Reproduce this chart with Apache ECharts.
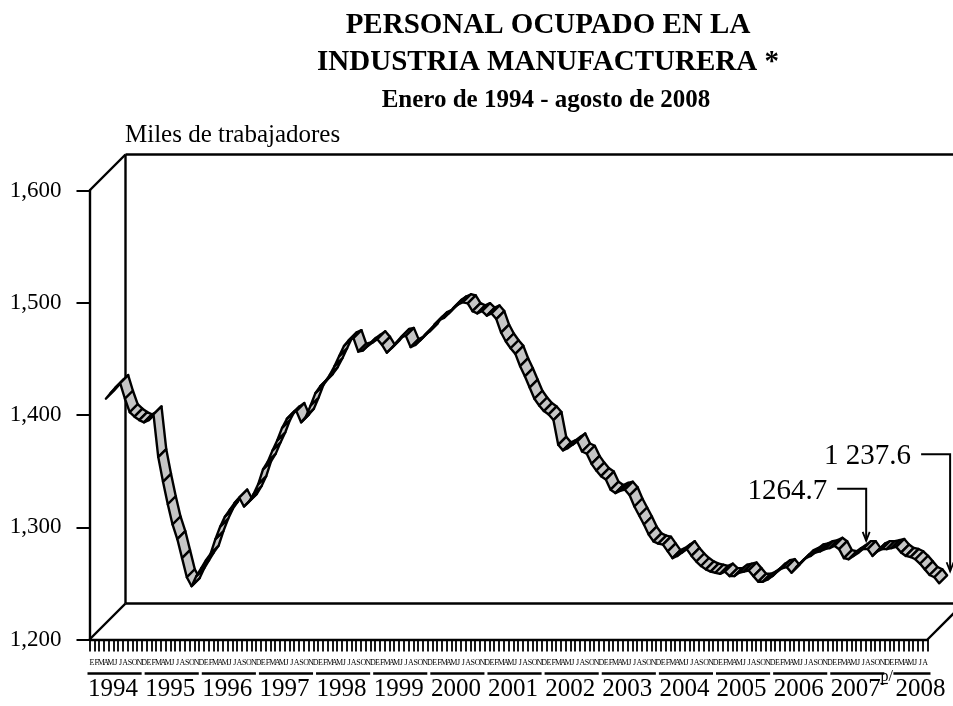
<!DOCTYPE html>
<html>
<head>
<meta charset="utf-8">
<script src="https://cdn.jsdelivr.net/npm/echarts@6/dist/echarts.min.js"></script>
<style>
html,body{margin:0;padding:0;background:#fff;}
#c{width:953px;height:706px;}
</style>
</head>
<body>
<div id="c"></div>
<script>
// ---------- data ----------
const monthLetters = ['E','F','M','A','M','J','J','A','S','O','N','D'];
const yearLabels = ['1994','1995','1996','1997','1998','1999','2000','2001','2002','2003','2004','2005','2006','2007','2008'];
const v1994 = [1402,1407,1412,1416,1402,1390,1386,1383,1381,1383,1388,1350];
const v1995 = [1328,1308,1290,1277,1260,1243,1235,1244,1251,1258,1264,1277];
const v1996 = [1288,1297,1303,1309,1314,1306,1310,1317,1326,1339,1346,1356];
const v1997 = [1365,1376,1384,1388,1391,1381,1386,1396,1407,1413,1417,1423];
const v1998 = [1431,1440,1449,1454,1456,1444,1445,1449,1452,1455,1450,1443];
const v1999 = [1447,1452,1457,1458,1448,1450,1454,1459,1462,1468,1472,1474];
const v2000 = [1478,1483,1486,1488,1487,1480,1478,1480,1476,1478,1473,1461];
const v2001 = [1453,1447,1442,1431,1422,1412,1402,1396,1391,1388,1383,1361];
const v2002 = [1356,1358,1361,1364,1355,1353,1344,1338,1333,1330,1321,1318];
const v2003 = [1320,1321,1316,1306,1298,1290,1281,1275,1273,1272,1266,1260];
const v2004 = [1262,1265,1268,1262,1257,1253,1250,1248,1247,1246,1248,1244];
const v2005 = [1244,1247,1248,1249,1244,1239,1239,1241,1244,1248,1251,1252];
const v2006 = [1247,1252,1256,1260,1262,1265,1266,1268,1269,1271,1268,1260];
const v2007 = [1259,1262,1264.7,1268,1268,1262,1266,1268,1268,1269,1270,1265];
const v2008 = [1262,1261,1259,1255,1250,1245,1243,1237.6];
const values = [].concat(v1994,v1995,v1996,v1997,v1998,v1999,v2000,v2001,v2002,v2003,v2004,v2005,v2006,v2007,v2008);
const categories = values.map((_, i) => yearLabels[Math.floor(i / 12)] + '-' + (i % 12 + 1));
const yMin = 1200, yMax = 1600, yStep = 100;
const annIndex = [158, 175];
const annText = ['1264.7', '1 237.6'];

// ---------- layout ----------
const FONT = "'Liberation Serif','Times New Roman',serif";
const G = {left: 89.5, top: 190.5, right: 927.5, bottom: 639.5, depth: 36, ribFront: 14, ribBack: 22};
const W = 953;

const chart = echarts.init(document.getElementById('c'));

const ribbonData = values.slice(0, -1).map((v, i) => [i, v, values[i + 1]]);
const yearData = yearLabels.map((y, k) => [k * 12, Math.min(k * 12 + 11, values.length - 1), k]);

function txt(x, y, text, size, align, weight) {
  return {type: 'text', x: x, y: y, style: {text: text, fill: '#000', fontSize: size, fontFamily: FONT,
    fontWeight: weight || 'normal', textAlign: align, textVerticalAlign: 'middle', align: align, verticalAlign: 'middle'}};
}
function seg(x1, y1, x2, y2, w) {
  return {type: 'line', shape: {x1: x1, y1: y1, x2: x2, y2: y2}, style: {stroke: '#000', lineWidth: w || 2.4}};
}

const option = {
  animation: false,
  grid: {left: G.left, top: G.top, width: G.right - G.left, height: G.bottom - G.top, containLabel: false},
  xAxis: {
    type: 'category', data: categories, boundaryGap: true,
    axisLine: {show: true, lineStyle: {color: '#000', width: 2.4}},
    axisTick: {show: true, interval: 0, length: 12, lineStyle: {color: '#000', width: 1.8}},
    axisLabel: {interval: 0, margin: 19, fontSize: 8, fontFamily: FONT, color: '#000',
      formatter: (v, i) => monthLetters[i % 12]},
    splitLine: {show: false}
  },
  yAxis: {
    type: 'value', min: yMin, max: yMax, interval: yStep,
    axisLine: {show: true, lineStyle: {color: '#000', width: 2.4}},
    axisTick: {show: true, length: 13, lineStyle: {color: '#000', width: 2}},
    axisLabel: {margin: 28, fontSize: 23, fontFamily: FONT, color: '#000',
      formatter: v => String(v).replace(/\B(?=(\d{3})+$)/g, ',')},
    splitLine: {show: false}
  },
  graphic: [
    txt(548, 25.5, 'PERSONAL OCUPADO EN LA', 29, 'center', 'bold'),
    txt(548, 62.5, 'INDUSTRIA MANUFACTURERA *', 29, 'center', 'bold'),
    txt(546, 101, 'Enero de 1994 - agosto de 2008', 25, 'center', 'bold'),
    txt(125, 135, 'Miles de trabajadores', 25, 'left'),
    // 3D box: back wall and floor
    seg(G.left + G.depth, G.top - G.depth, G.left + G.depth, G.bottom - G.depth),
    seg(G.left + G.depth, G.top - G.depth, W + 10, G.top - G.depth),
    seg(G.left + G.depth, G.bottom - G.depth, W + 10, G.bottom - G.depth),
    seg(G.left, G.top, G.left + G.depth, G.top - G.depth),
    seg(G.left, G.bottom, G.left + G.depth, G.bottom - G.depth),
    seg(G.right, G.bottom, G.right + G.depth, G.bottom - G.depth)
  ],
  series: [
    {
      type: 'custom', clip: false, data: ribbonData, encode: {x: 0, y: 1}, z: 5,
      renderItem: function (params, api) {
        const i = api.value(0);
        const a = api.coord([i, api.value(1)]);
        const b = api.coord([i + 1, api.value(2)]);
        const f = G.ribFront, k = G.ribBack;
        return {
          type: 'polygon',
          shape: {points: [[a[0] + f, a[1] - f], [b[0] + f, b[1] - f], [b[0] + k, b[1] - k], [a[0] + k, a[1] - k]]},
          style: {fill: '#c6c6c6', stroke: '#000', lineWidth: 2.4, lineJoin: 'round'}
        };
      }
    },
    {
      type: 'custom', clip: false, data: yearData, encode: {x: 0}, z: 5,
      renderItem: function (params, api) {
        const s = api.value(0), e = api.value(1), k = api.value(2);
        const p0 = api.coord([s, yMin]);
        const band = api.coord([s + 1, yMin])[0] - p0[0];
        const y0 = p0[1];
        const xs = p0[0] - band / 2;
        const xe = api.coord([e, yMin])[0] + band / 2;
        const children = [];
        if (e - s + 1 >= 12) {
          children.push(seg(xs - 2, y0 + 34, xe - 5, y0 + 34, 2.5));
          children.push(txt((xs + xe) / 2 - 5, y0 + 50, yearLabels[k], 25, 'center'));
        } else {
          children.push(seg(xs + 4, y0 + 34, xe + 3, y0 + 34, 2.5));
          children.push(txt(xs + 6, y0 + 50, yearLabels[k], 25, 'left'));
          children.push(txt(xs - 9, y0 + 37.5, 'p/', 16, 'left'));
          children.push(seg(xs - 9, y0 + 44, xs - 1.5, y0 + 44, 1.2));
        }
        return {type: 'group', children: children};
      }
    }
  ]
};
chart.setOption(option);

// callouts, anchored to the ribbon through the library's scales
const rise = [52, 117];
const callouts = [];
annIndex.forEach((idx, n) => {
  const p = chart.convertToPixel({seriesIndex: 0}, [idx, values[idx]]);
  const tx = p[0] + G.ribBack + (n === 1 ? 3 : 0), ty = p[1] - G.ribBack - 4;
  const ly = ty - rise[n];
  callouts.push({type: 'polyline', shape: {points: [[tx - 29, ly], [tx, ly], [tx, ty]]},
    style: {stroke: '#000', lineWidth: 2, fill: null}});
  callouts.push({type: 'polyline', shape: {points: [[tx - 3.5, ty - 9], [tx, ty], [tx + 3.5, ty - 9]]},
    style: {stroke: '#000', lineWidth: 1.8, fill: null}});
  callouts.push(txt(tx - 39, ly + 2.5, annText[n], 29, 'right'));
});
chart.setOption({graphic: option.graphic.concat(callouts)}, {replaceMerge: ['graphic']});
</script>
</body>
</html>
